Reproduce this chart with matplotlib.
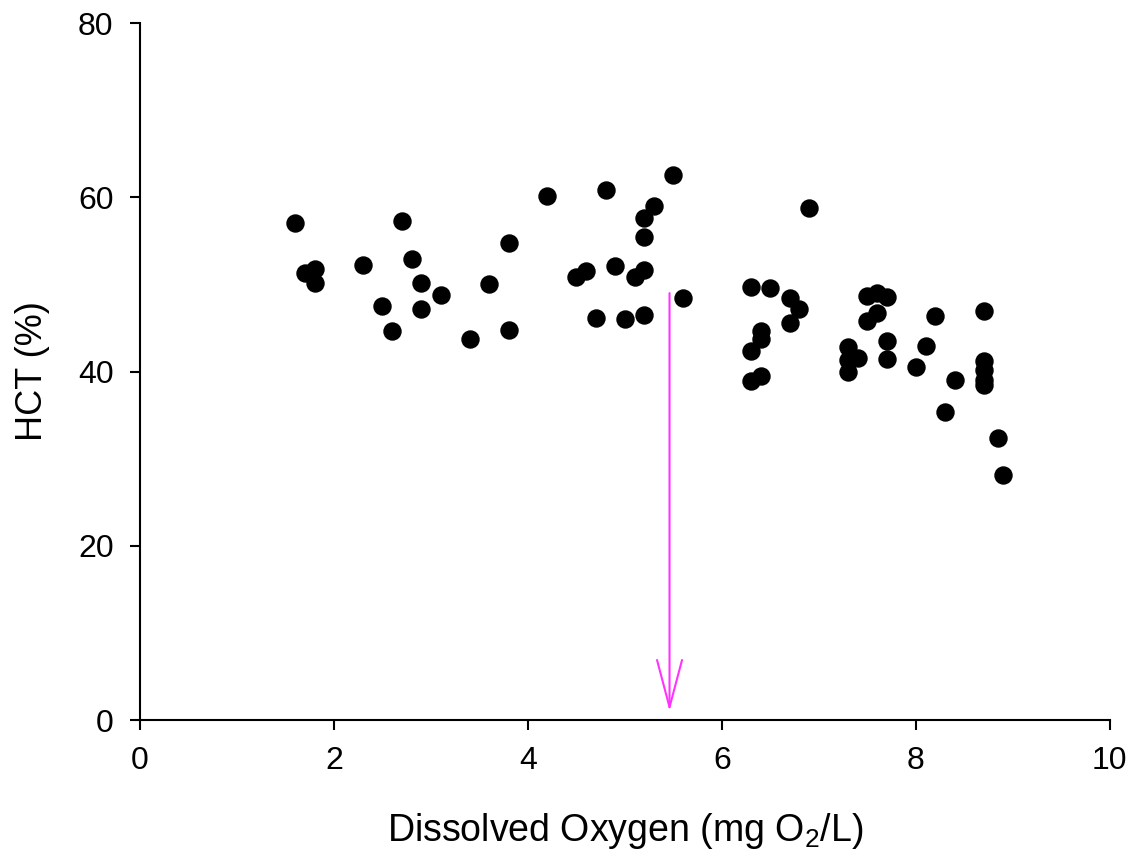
import matplotlib

matplotlib.use("Agg")
import matplotlib.pyplot as plt


# Точки HCT против растворённого кислорода.
do_values = [
    1.6, 1.7, 1.8, 1.8, 2.3, 2.5, 2.6, 2.7, 2.8, 2.9, 2.9, 3.1, 3.4, 3.6, 3.8, 3.8,
    4.2, 4.5, 4.6, 4.7, 4.8, 4.9, 5.0, 5.1, 5.2, 5.2, 5.2, 5.2, 5.3, 5.5, 5.6,
    6.3, 6.3, 6.3, 6.4, 6.4, 6.4, 6.5, 6.7, 6.7, 6.8, 6.9,
    7.3, 7.3, 7.3, 7.4, 7.5, 7.6, 7.7, 7.6, 7.5, 7.7, 7.7,
    8.0, 8.1, 8.2, 8.3, 8.4, 8.7, 8.7, 8.7, 8.7, 8.7, 8.85, 8.9,
]
hct_values = [
    57.0, 51.3, 51.8, 50.2, 52.2, 47.5, 44.6, 57.3, 52.9, 50.2, 47.2, 48.8, 43.7, 50.1, 54.7, 44.8,
    60.2, 50.8, 51.5, 46.1, 60.8, 52.1, 46.0, 50.9, 57.6, 55.4, 51.7, 46.5, 59.0, 62.6, 48.4,
    49.7, 42.4, 38.9, 44.7, 43.7, 39.5, 49.6, 48.4, 45.6, 47.2, 58.8,
    42.8, 41.3, 39.9, 41.5, 48.7, 49.0, 48.6, 46.7, 45.8, 43.5, 41.4,
    40.5, 42.9, 46.4, 35.4, 39.0, 46.9, 41.2, 40.2, 39.0, 38.5, 32.4, 28.1,
]

# Стрелка - пороговое значение кислорода
ARROW_X = 5.46
ARROW_Y = (49.0, 1.0)

plt.rcParams["font.family"] = ["Liberation Sans", "DejaVu Sans"]
plt.rcParams["mathtext.default"] = "regular"

fig = plt.figure(figsize=(11.36, 8.59), dpi=100)
ax = fig.add_axes([0.1232, 0.1618, 0.8538, 0.8114])

ax.scatter(do_values, hct_values, s=150, color="black", zorder=3)

ax.annotate(
    "",
    xy=(ARROW_X, ARROW_Y[1]),
    xytext=(ARROW_X, ARROW_Y[0]),
    arrowprops=dict(
        arrowstyle="->,head_length=3.4,head_width=0.9",
        color="#ff33ff",
        lw=1.5,
        mutation_scale=10,
        shrinkA=0,
        shrinkB=0,
    ),
)

ax.set_xlim(0, 10)
ax.set_ylim(0, 80)
ax.set_xticks([0, 2, 4, 6, 8, 10])
ax.set_yticks([0, 20, 40, 60, 80])
ax.spines["top"].set_visible(False)
ax.spines["right"].set_visible(False)
for side in ("left", "bottom"):
    ax.spines[side].set_linewidth(1.5)
ax.tick_params(direction="out", length=7, width=1.5, labelsize=23)
ax.tick_params(axis="x", pad=12)
ax.tick_params(axis="y", pad=12)

ax.set_xlabel("Dissolved Oxygen (mg O$_2$/L)", fontsize=27, labelpad=25)
ax.set_ylabel("HCT (%)", fontsize=26, labelpad=20)

fig.savefig("out.png", dpi=100)
